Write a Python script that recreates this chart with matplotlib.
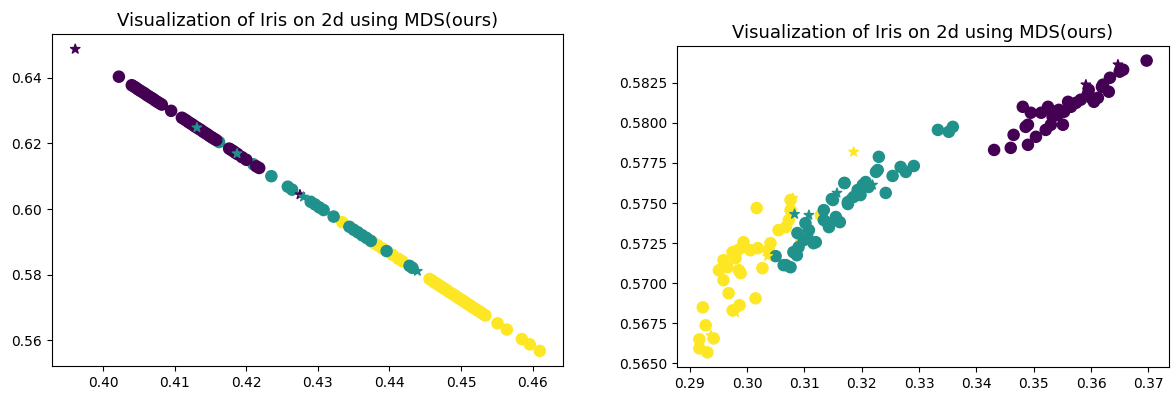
import matplotlib
matplotlib.use("Agg")
import matplotlib.pyplot as plt

# ---- left panel: points lying on one line ----
left_x0 = [0.4022, 0.4040, 0.4043, 0.4046, 0.4049, 0.4052, 0.4055, 0.4058, 0.4061, 0.4064,
           0.4067, 0.4070, 0.4073, 0.4076, 0.4079, 0.4082, 0.4095, 0.4110, 0.4113, 0.4116,
           0.4119, 0.4122, 0.4125, 0.4128, 0.4131, 0.4134, 0.4137, 0.4140, 0.4143, 0.4146,
           0.4149, 0.4152, 0.4155, 0.4158, 0.4176, 0.4179, 0.4182, 0.4185, 0.4188, 0.4194,
           0.4200, 0.4214, 0.4218]
left_y0 = [0.6403, 0.6377, 0.6373, 0.6369, 0.6364, 0.6360, 0.6356, 0.6352, 0.6347, 0.6343,
           0.6339, 0.6335, 0.6330, 0.6326, 0.6322, 0.6318, 0.6299, 0.6278, 0.6274, 0.6270,
           0.6265, 0.6261, 0.6257, 0.6252, 0.6248, 0.6244, 0.6240, 0.6235, 0.6231, 0.6227,
           0.6222, 0.6218, 0.6214, 0.6210, 0.6184, 0.6180, 0.6176, 0.6171, 0.6167, 0.6158,
           0.6150, 0.6130, 0.6125]
left_x1 = [0.4162, 0.4210, 0.4235, 0.4258, 0.4264, 0.4290, 0.4296, 0.4302, 0.4308, 0.4322,
           0.4344, 0.4350, 0.4356, 0.4362, 0.4368, 0.4374, 0.4396, 0.4428, 0.4432]
left_y1 = [0.6204, 0.6136, 0.6100, 0.6068, 0.6059, 0.6022, 0.6014, 0.6005, 0.5997, 0.5977,
           0.5946, 0.5937, 0.5929, 0.5920, 0.5912, 0.5903, 0.5872, 0.5827, 0.5821]
left_x2 = [0.4334, 0.4378, 0.4384, 0.4390, 0.4404, 0.4412, 0.4418, 0.4456, 0.4459, 0.4462,
           0.4465, 0.4468, 0.4471, 0.4474, 0.4477, 0.4480, 0.4483, 0.4486, 0.4489, 0.4492,
           0.4495, 0.4498, 0.4501, 0.4504, 0.4507, 0.4510, 0.4513, 0.4516, 0.4519, 0.4522,
           0.4525, 0.4528, 0.4531, 0.4534, 0.4551, 0.4564, 0.4585, 0.4596, 0.4610]
left_y2 = [0.5960, 0.5897, 0.5889, 0.5880, 0.5861, 0.5849, 0.5841, 0.5787, 0.5783, 0.5778,
           0.5774, 0.5770, 0.5765, 0.5761, 0.5757, 0.5753, 0.5748, 0.5744, 0.5740, 0.5736,
           0.5731, 0.5727, 0.5723, 0.5719, 0.5714, 0.5710, 0.5706, 0.5701, 0.5697, 0.5693,
           0.5689, 0.5685, 0.5680, 0.5676, 0.5652, 0.5633, 0.5604, 0.5588, 0.5568]
left_star_x = [0.3961, 0.4275, 0.4131, 0.4187, 0.4280, 0.4439]
left_star_y = [0.6487, 0.6044, 0.6248, 0.6169, 0.6037, 0.5811]
left_star_c = [0, 0, 1, 1, 1, 1]

# ---- right panel: three clusters ----
right_x0 = [0.3697, 0.3656, 0.3650, 0.3633, 0.3621, 0.3631, 0.3612, 0.3605, 0.3596, 0.3594,
            0.3582, 0.3574, 0.3565, 0.3560, 0.3553, 0.3544, 0.3542, 0.3551, 0.3533, 0.3526,
            0.3525, 0.3513, 0.3495, 0.3481, 0.3490, 0.3486, 0.3521, 0.3530, 0.3504, 0.3490,
            0.3465, 0.3460, 0.3431, 0.3600, 0.3619, 0.3567, 0.3537]
right_y0 = [0.58388, 0.58331, 0.58319, 0.58281, 0.58238, 0.58194, 0.58156, 0.58131, 0.58206, 0.58175,
            0.58144, 0.58125, 0.58100, 0.58131, 0.58069, 0.58081, 0.58050, 0.57988, 0.58038, 0.58081,
            0.58100, 0.58063, 0.58063, 0.58100, 0.57988, 0.57975, 0.57956, 0.57988, 0.57913, 0.57863,
            0.57925, 0.57844, 0.57831, 0.58156, 0.58225, 0.58113, 0.58069]
right_x1 = [0.3333, 0.3352, 0.3359, 0.3230, 0.3228, 0.3225, 0.3268, 0.3277, 0.3291, 0.3254,
            0.3242, 0.3170, 0.3193, 0.3202, 0.3207, 0.3212, 0.3198, 0.3186, 0.3176, 0.3148,
            0.3134, 0.3134, 0.3143, 0.3155, 0.3162, 0.3102, 0.3108, 0.3088, 0.3099, 0.3116,
            0.3090, 0.3081, 0.3087, 0.3068, 0.3076, 0.3050, 0.3064, 0.3106, 0.3120, 0.3141,
            0.3150, 0.3176, 0.3170]
right_y1 = [0.57956, 0.57944, 0.57975, 0.57788, 0.57706, 0.57694, 0.57725, 0.57694, 0.57731, 0.57669,
            0.57563, 0.57625, 0.57581, 0.57613, 0.57631, 0.57600, 0.57550, 0.57538, 0.57494, 0.57525,
            0.57456, 0.57394, 0.57350, 0.57413, 0.57381, 0.57375, 0.57331, 0.57313, 0.57269, 0.57250,
            0.57225, 0.57194, 0.57175, 0.57113, 0.57100, 0.57169, 0.57113, 0.57281, 0.57256, 0.57375,
            0.57519, 0.57506, 0.57625]
right_x2 = [0.3017, 0.3076, 0.3076, 0.3073, 0.3068, 0.3055, 0.3041, 0.3038, 0.3027, 0.3019,
            0.3006, 0.2994, 0.2992, 0.2984, 0.2975, 0.2980, 0.2959, 0.2966, 0.2986, 0.2989,
            0.2951, 0.2959, 0.2968, 0.2975, 0.2987, 0.3015, 0.2923, 0.2928, 0.2942, 0.2917,
            0.2917, 0.2931, 0.3129, 0.3095]
right_y2 = [0.57469, 0.57519, 0.57456, 0.57394, 0.57350, 0.57331, 0.57250, 0.57206, 0.57094, 0.57219,
            0.57206, 0.57256, 0.57225, 0.57206, 0.57194, 0.57156, 0.57144, 0.57100, 0.57081, 0.57063,
            0.57081, 0.57019, 0.56938, 0.56831, 0.56863, 0.56906, 0.56850, 0.56738, 0.56656, 0.56650,
            0.56594, 0.56569, 0.57425, 0.57269]
right_star_x = [0.3647, 0.3591, 0.3083, 0.3108, 0.3157, 0.3183, 0.3219,
                0.3186, 0.3080, 0.2973, 0.3036, 0.2980, 0.2937]
right_star_y = [0.58363, 0.58238, 0.57431, 0.57425, 0.57563, 0.57538, 0.57613,
                0.57819, 0.57531, 0.57194, 0.57169, 0.56819, 0.56675]
right_star_c = [0, 0, 1, 1, 1, 1, 1, 2, 2, 2, 2, 2, 2]

title = "Visualization of Iris on 2d using MDS(ours)"
cmap = plt.get_cmap("viridis")


def draw(ax, groups, sx, sy, sc):
    # yellow first, then teal, then purple so overlaps look like the original
    for lab in (2, 1, 0):
        xs, ys = groups[lab]
        ax.scatter(xs, ys, c=[lab] * len(xs), cmap=cmap, vmin=0, vmax=2, s=64)
    ax.scatter(sx, sy, c=sc, cmap=cmap, vmin=0, vmax=2, s=50, marker="*")
    ax.set_title(title, fontsize=13)
    ax.tick_params(labelsize=10)


fig = plt.figure(figsize=(11.71, 3.94), dpi=100)
ax1 = fig.add_axes([52 / 1171, 28 / 394, 511 / 1171, 332 / 394])
ax2 = fig.add_axes([677 / 1171, 27 / 394, 492 / 1171, 321 / 394])

draw(ax1, {0: (left_x0, left_y0), 1: (left_x1, left_y1), 2: (left_x2, left_y2)},
     left_star_x, left_star_y, left_star_c)
draw(ax2, {0: (right_x0, right_y0), 1: (right_x1, right_y1), 2: (right_x2, right_y2)},
     right_star_x, right_star_y, right_star_c)

fig.savefig("out.png", dpi=100)
